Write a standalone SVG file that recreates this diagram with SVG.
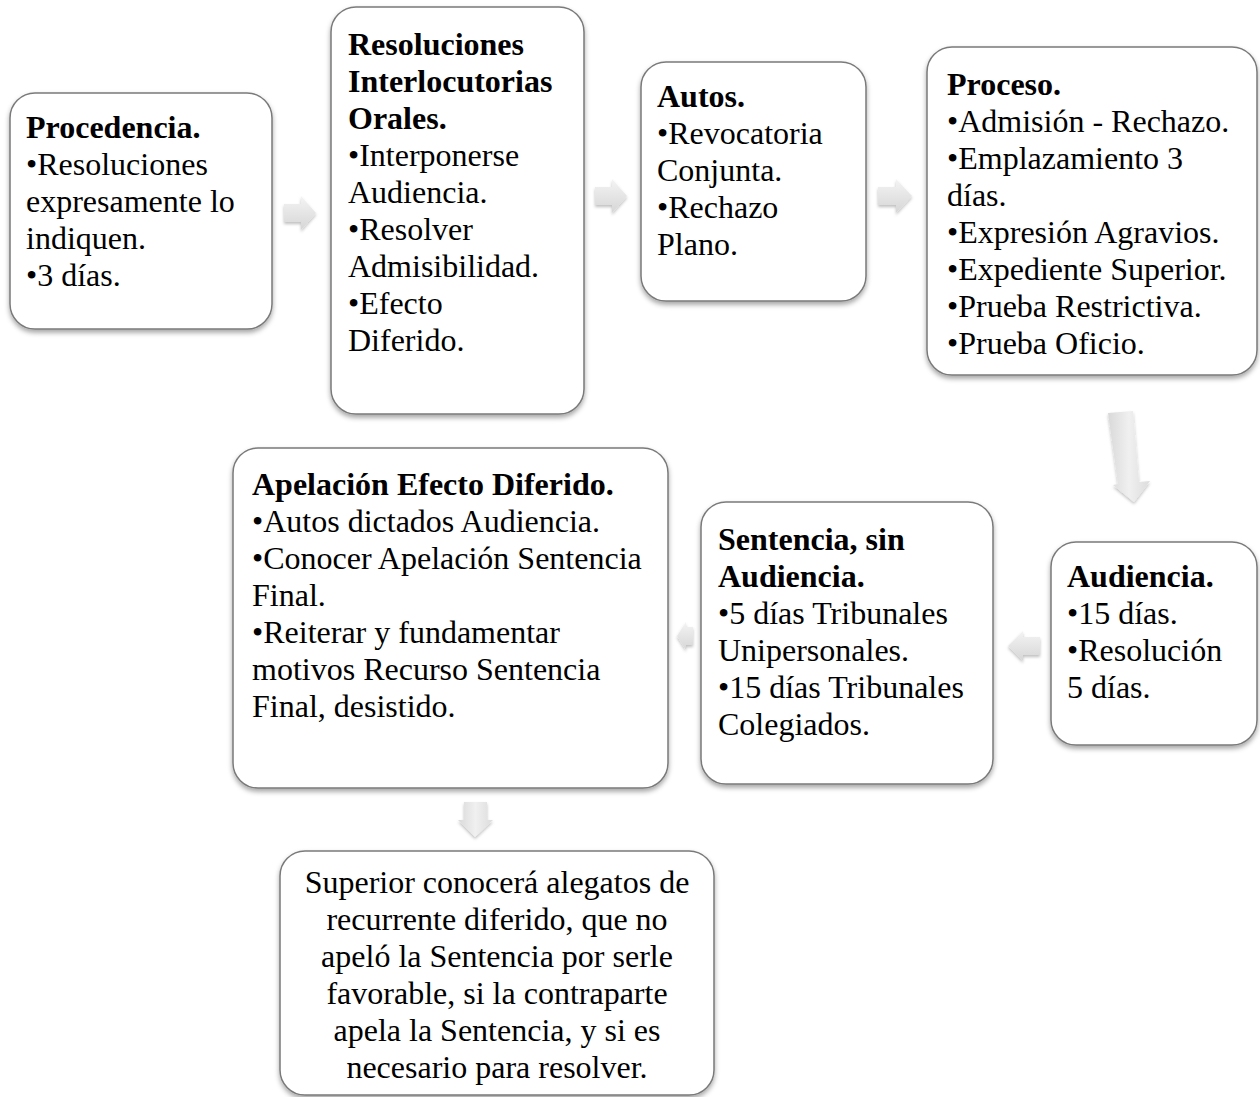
<svg xmlns="http://www.w3.org/2000/svg" width="1260" height="1097" viewBox="0 0 1260 1097">
<defs>
<filter id="sh" x="-10%" y="-10%" width="120%" height="125%">
<feDropShadow dx="0" dy="3" stdDeviation="2.5" flood-color="#000" flood-opacity="0.35"/>
</filter>
<filter id="ash" x="-30%" y="-30%" width="160%" height="160%">
<feDropShadow dx="0" dy="2" stdDeviation="1.8" flood-color="#000" flood-opacity="0.25"/>
</filter>
<linearGradient id="ag" x1="0" y1="0" x2="0" y2="1">
<stop offset="0" stop-color="#f4f4f4"/>
<stop offset="1" stop-color="#d6d6d6"/>
</linearGradient>
<linearGradient id="agh" x1="0" y1="0" x2="1" y2="0">
<stop offset="0" stop-color="#d9d9d9"/>
<stop offset="0.5" stop-color="#f0f0f0"/>
<stop offset="1" stop-color="#dcdcdc"/>
</linearGradient>
</defs>
<style>
.box{fill:#fff;stroke:#7a7a7a;stroke-width:1.5;filter:url(#sh)}
.t{font-family:"Liberation Serif","Times New Roman",serif;font-size:32px;fill:#000}
.b{font-weight:bold}
.c{text-anchor:middle}
.arr{fill:url(#ag);filter:url(#ash)}
.arrv{fill:url(#agh);filter:url(#ash)}
</style>
<rect width="1260" height="1097" fill="#fff"/>
<g id="connectors">
<polygon class="arr" points="284,204 301,204 301,196 316,213 301,230 301,222 284,222"/>
<polygon class="arr" points="595,187 612,187 612,179 627,196 612,213 612,205 595,205"/>
<polygon class="arr" points="878,187 896,187 896,179 912,196 896,213 896,205 878,205"/>
<polygon class="arrv" points="1108,413 1133,411 1139,482 1150,481 1134,502 1113,485 1118,484"/>
<polygon class="arr" points="1040,637 1023,637 1023,631 1008,646 1023,661 1023,655 1040,655"/>
<polygon class="arr" points="693,627 686,627 686,622 677,636 686,650 686,645 693,645"/>
<polygon class="arrv" points="464,802 487,802 487,820 493,820 475,837 458,820 464,820"/>
</g>
<g id="procedencia">
<rect class="box" x="10" y="93" width="262" height="236" rx="25"/>
<text class="t b" x="26" y="138">Procedencia.</text>
<text class="t" x="26" y="175">•Resoluciones</text>
<text class="t" x="26" y="212">expresamente lo</text>
<text class="t" x="26" y="249">indiquen.</text>
<text class="t" x="26" y="286">•3 días.</text>
</g>
<g id="resoluciones">
<rect class="box" x="331" y="7" width="253" height="407" rx="25"/>
<text class="t b" x="348" y="55">Resoluciones</text>
<text class="t b" x="348" y="92">Interlocutorias</text>
<text class="t b" x="348" y="129">Orales.</text>
<text class="t" x="348" y="166">•Interponerse</text>
<text class="t" x="348" y="203">Audiencia.</text>
<text class="t" x="348" y="240">•Resolver</text>
<text class="t" x="348" y="277">Admisibilidad.</text>
<text class="t" x="348" y="314">•Efecto</text>
<text class="t" x="348" y="351">Diferido.</text>
</g>
<g id="autos">
<rect class="box" x="641" y="62" width="225" height="239" rx="25"/>
<text class="t b" x="657" y="107">Autos.</text>
<text class="t" x="657" y="144">•Revocatoria</text>
<text class="t" x="657" y="181">Conjunta.</text>
<text class="t" x="657" y="218">•Rechazo</text>
<text class="t" x="657" y="255">Plano.</text>
</g>
<g id="proceso">
<rect class="box" x="927" y="47" width="330" height="328" rx="25"/>
<text class="t b" x="947" y="95">Proceso.</text>
<text class="t" x="947" y="132">•Admisión - Rechazo.</text>
<text class="t" x="947" y="169">•Emplazamiento 3</text>
<text class="t" x="947" y="206">días.</text>
<text class="t" x="947" y="243">•Expresión Agravios.</text>
<text class="t" x="947" y="280">•Expediente Superior.</text>
<text class="t" x="947" y="317">•Prueba Restrictiva.</text>
<text class="t" x="947" y="354">•Prueba Oficio.</text>
</g>
<g id="audiencia">
<rect class="box" x="1051" y="542" width="206" height="203" rx="25"/>
<text class="t b" x="1067" y="587">Audiencia.</text>
<text class="t" x="1067" y="624">•15 días.</text>
<text class="t" x="1067" y="661">•Resolución</text>
<text class="t" x="1067" y="698">5 días.</text>
</g>
<g id="sentencia">
<rect class="box" x="701" y="502" width="292" height="282" rx="25"/>
<text class="t b" x="718" y="550">Sentencia, sin</text>
<text class="t b" x="718" y="587">Audiencia.</text>
<text class="t" x="718" y="624">•5 días Tribunales</text>
<text class="t" x="718" y="661">Unipersonales.</text>
<text class="t" x="718" y="698">•15 días Tribunales</text>
<text class="t" x="718" y="735">Colegiados.</text>
</g>
<g id="apelacion">
<rect class="box" x="233" y="448" width="435" height="340" rx="25"/>
<text class="t b" x="252" y="495">Apelación Efecto Diferido.</text>
<text class="t" x="252" y="532">•Autos dictados Audiencia.</text>
<text class="t" x="252" y="569">•Conocer Apelación Sentencia</text>
<text class="t" x="252" y="606">Final.</text>
<text class="t" x="252" y="643">•Reiterar y fundamentar</text>
<text class="t" x="252" y="680">motivos Recurso Sentencia</text>
<text class="t" x="252" y="717">Final, desistido.</text>
</g>
<g id="superior">
<rect class="box" x="280" y="851" width="434" height="244" rx="25"/>
<text class="t c" x="497" y="893">Superior conocerá alegatos de</text>
<text class="t c" x="497" y="930">recurrente diferido, que no</text>
<text class="t c" x="497" y="967">apeló la Sentencia por serle</text>
<text class="t c" x="497" y="1004">favorable, si la contraparte</text>
<text class="t c" x="497" y="1041">apela la Sentencia, y si es</text>
<text class="t c" x="497" y="1078">necesario para resolver.</text>
</g>
</svg>
